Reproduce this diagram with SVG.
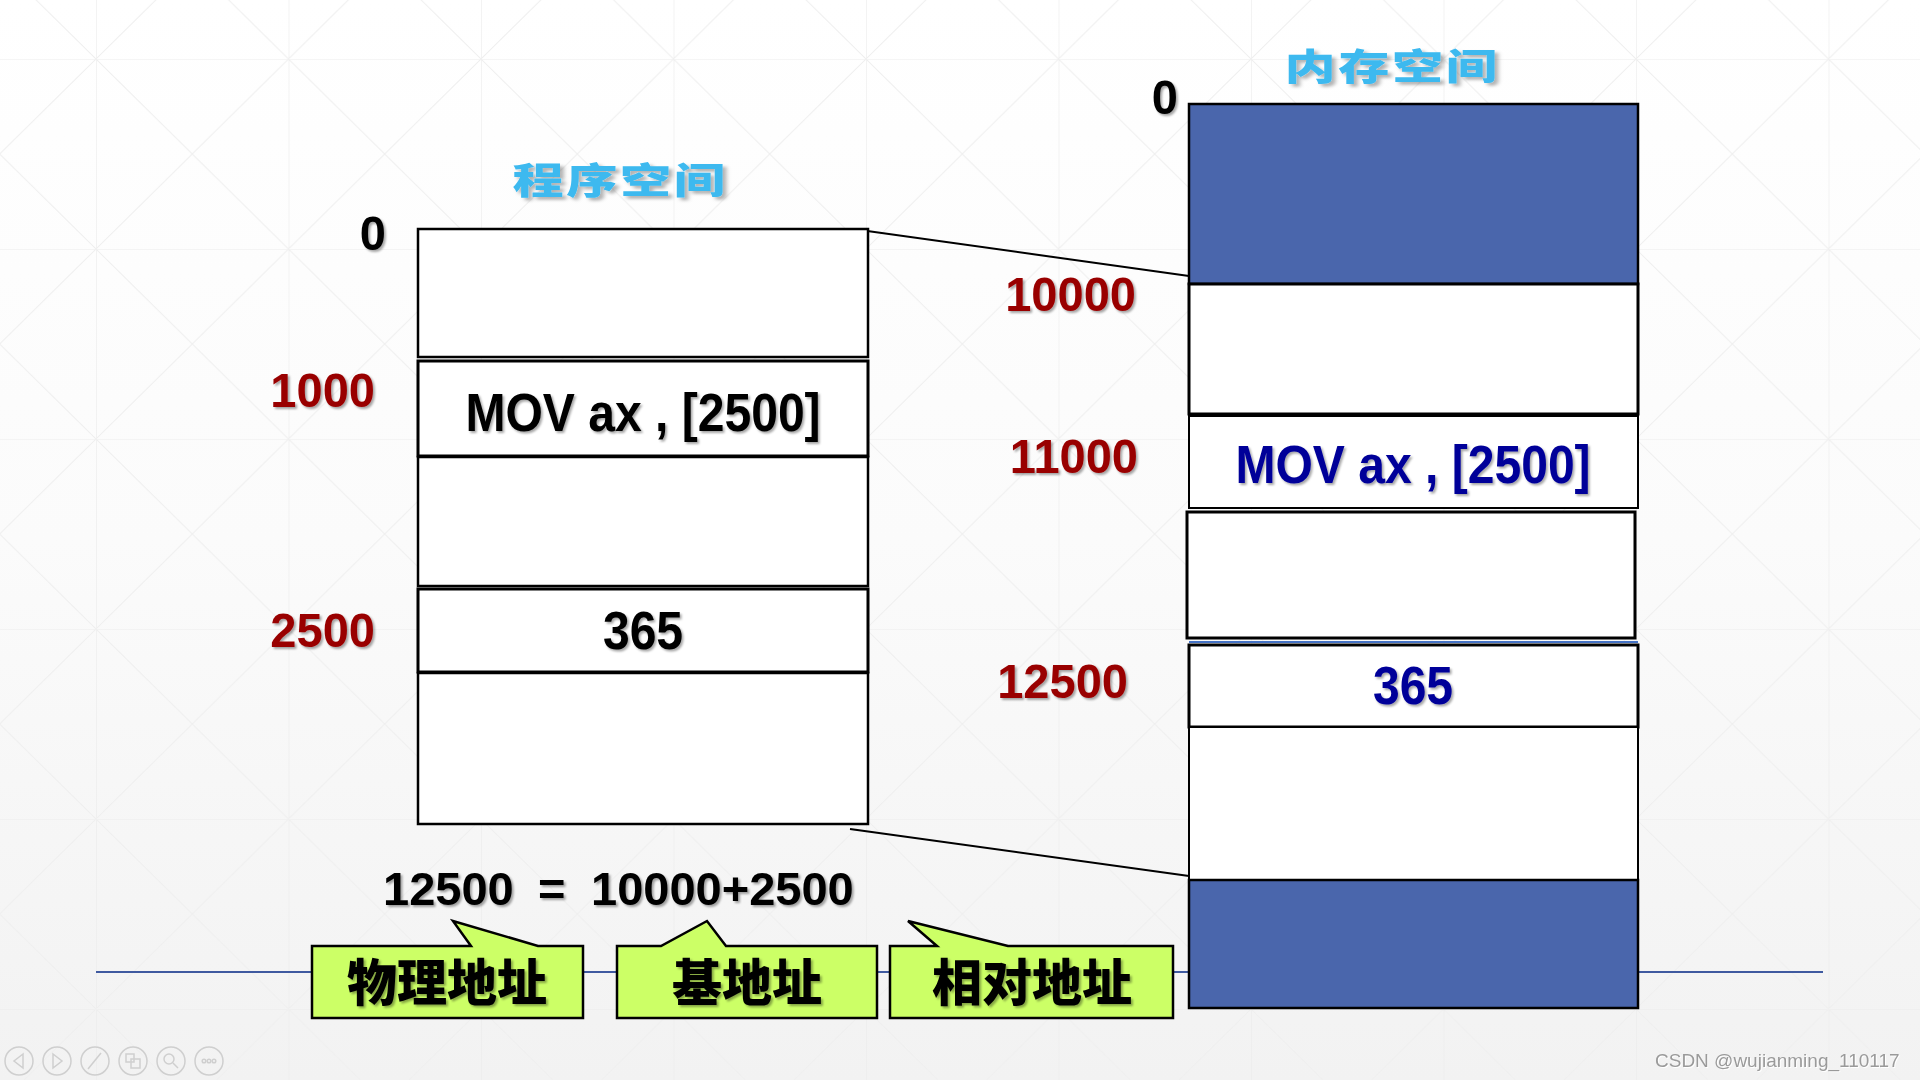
<svg xmlns="http://www.w3.org/2000/svg" width="1920" height="1080" viewBox="0 0 1920 1080">
<defs>
  <linearGradient id="bg" x1="0" y1="0" x2="0" y2="1">
    <stop offset="0" stop-color="#ffffff"/>
    <stop offset="0.5" stop-color="#fbfbfb"/>
    <stop offset="1" stop-color="#f2f2f2"/>
  </linearGradient>
  <pattern id="grid" patternUnits="userSpaceOnUse" x="96" y="59" width="192.5" height="190">
    <path d="M0 0H192.5M0 0V190" stroke="#ebebeb" stroke-width="1.2" fill="none"/>
    <path d="M0 0L192.5 190M192.5 0L0 190" stroke="#efefef" stroke-width="1" fill="none"/>
  </pattern>
  <filter id="sh" x="-10%" y="-20%" width="130%" height="150%">
    <feDropShadow dx="2" dy="2" stdDeviation="1.2" flood-color="#000" flood-opacity="0.35"/>
  </filter>
  <filter id="tsh" x="-10%" y="-20%" width="130%" height="160%">
    <feDropShadow dx="3" dy="3" stdDeviation="1.5" flood-color="#000" flood-opacity="0.3"/>
  </filter>
  <style>
    .cell{fill:#ffffff;stroke:#000;stroke-width:2.5}
    .blue{fill:#4A66AC;stroke:#000;stroke-width:2.5}
    .num{font-family:"Liberation Sans",Arial,sans-serif;font-weight:bold;font-size:49px;filter:url(#sh)}
    .eq{font-family:"Liberation Sans",Arial,sans-serif;font-weight:bold;font-size:47px;filter:url(#sh)}
    .red{fill:#990000}
    .blk{fill:#000}
    .code{font-family:"Liberation Sans",Arial,sans-serif;font-weight:bold;font-size:54px;text-anchor:middle;filter:url(#sh)}
    .title{font-family:"Noto Sans CJK SC",sans-serif;font-weight:900;font-size:40px;fill:#3DB9EF;text-anchor:middle;letter-spacing:2px;filter:url(#tsh)}
    .call{fill:#CCFF66;stroke:#000;stroke-width:2.5;stroke-linejoin:miter}
    .calltxt{font-family:"Noto Sans CJK SC",sans-serif;font-weight:900;font-size:50px;fill:#000;text-anchor:middle;filter:url(#sh)}
    .link{stroke:#000;stroke-width:2;fill:none}
    .nav{fill:none;stroke:#cfcfcf;stroke-width:1.5}
  </style>
</defs>

<rect x="0" y="0" width="1920" height="1080" fill="url(#bg)"/>
<rect x="0" y="0" width="1920" height="1080" fill="url(#grid)"/>

<!-- baseline rule -->
<line x1="96" y1="972" x2="1823" y2="972" stroke="#3F5AA0" stroke-width="2"/>

<!-- titles -->
<g id="title-program">
  <text class="title" transform="translate(620,194) scale(1.28,0.92)">程序空间</text>
</g>
<g id="title-memory">
  <text class="title" transform="translate(1392,80) scale(1.28,0.92)">内存空间</text>
</g>

<!-- connectors -->
<g id="connectors">
  <line class="link" x1="853" y1="229" x2="1189" y2="276"/>
  <line class="link" x1="850" y1="829" x2="1189" y2="876"/>
</g>

<!-- program space -->
<g id="program-space">
  <rect class="cell" x="418" y="229" width="450" height="128"/>
  <rect class="cell" x="418" y="361" width="450" height="95" style="stroke-width:3"/>
  <rect class="cell" x="418" y="457" width="450" height="129"/>
  <rect class="cell" x="418" y="589" width="450" height="83" style="stroke-width:3"/>
  <rect class="cell" x="418" y="673" width="450" height="151"/>
  <text class="code blk" transform="translate(643,431) scale(0.89,1)">MOV ax , [2500]</text>
  <text class="code blk" transform="translate(643,649) scale(0.89,1)">365</text>
</g>
<g id="program-labels">
  <text class="num blk" text-anchor="end" transform="translate(386,250) scale(0.96,1)">0</text>
  <text class="num red" text-anchor="end" transform="translate(375,407) scale(0.96,1)">1000</text>
  <text class="num red" text-anchor="end" transform="translate(375,647) scale(0.96,1)">2500</text>
</g>

<!-- memory space -->
<g id="memory-space">
  <rect class="blue" x="1189" y="104" width="449" height="180"/>
  <rect class="cell" x="1189" y="284" width="449" height="130" style="stroke-width:3"/>
  <rect class="cell" x="1189" y="416" width="449" height="92" style="stroke-width:2"/>
  <rect class="cell" x="1187" y="512" width="448" height="126" style="stroke-width:3"/>
  <line x1="1189" y1="642" x2="1638" y2="642" stroke="#4472C4" stroke-width="2"/>
  <rect class="cell" x="1189" y="645" width="449" height="82" style="stroke-width:3"/>
  <rect class="cell" x="1189" y="727" width="449" height="153" style="stroke-width:2"/>
  <rect class="blue" x="1189" y="880" width="449" height="128"/>
  <text class="code" fill="#000099" transform="translate(1413,483) scale(0.89,1)">MOV ax , [2500]</text>
  <text class="code" fill="#000099" transform="translate(1413,704) scale(0.89,1)">365</text>
</g>
<g id="memory-labels">
  <text class="num blk" text-anchor="end" transform="translate(1178,114) scale(0.96,1)">0</text>
  <text class="num red" text-anchor="end" transform="translate(1136,311) scale(0.96,1)">10000</text>
  <text class="num red" text-anchor="end" transform="translate(1138,473) scale(0.96,1)">11000</text>
  <text class="num red" text-anchor="end" transform="translate(1128,698) scale(0.96,1)">12500</text>
</g>

<!-- equation -->
<g id="equation">
  <text class="eq blk" y="905"><tspan x="383">12500</tspan><tspan x="538">=</tspan><tspan x="591">10000+2500</tspan></text>
</g>

<!-- callouts -->
<g id="callout-physical">
  <path class="call" d="M312 946H471L453 921L538 946H583V1018H312Z"/>
  <text class="calltxt" x="447" y="1001">物理地址</text>
</g>
<g id="callout-base">
  <path class="call" d="M617 946H661L707 921L726 946H877V1018H617Z"/>
  <text class="calltxt" x="747" y="1001">基地址</text>
</g>
<g id="callout-relative">
  <path class="call" d="M890 946H937L908 921L1008 946H1173V1018H890Z"/>
  <text class="calltxt" x="1032" y="1001">相对地址</text>
</g>

<!-- slide navigation icons -->
<g id="nav-icons">
  <circle class="nav" cx="19" cy="1061" r="14"/>
  <path class="nav" d="M23 1054L14 1061L23 1068Z"/>
  <circle class="nav" cx="57" cy="1061" r="14"/>
  <path class="nav" d="M53 1054L62 1061L53 1068Z"/>
  <circle class="nav" cx="95" cy="1061" r="14"/>
  <path class="nav" d="M88 1069L101 1053" stroke-width="3"/>
  <circle class="nav" cx="133" cy="1061" r="14"/>
  <rect class="nav" x="126" y="1054" width="8" height="8"/>
  <rect class="nav" x="131" y="1059" width="9" height="9"/>
  <circle class="nav" cx="171" cy="1061" r="14"/>
  <circle class="nav" cx="169" cy="1059" r="5"/>
  <path class="nav" d="M173 1063L178 1068" stroke-width="2.5"/>
  <circle class="nav" cx="209" cy="1061" r="14"/>
  <circle class="nav" cx="204" cy="1061" r="1.8"/>
  <circle class="nav" cx="209" cy="1061" r="1.8"/>
  <circle class="nav" cx="214" cy="1061" r="1.8"/>
</g>

<text x="1655" y="1067" font-family="Liberation Sans,Arial,sans-serif" font-size="19" fill="#9a9a9a" style="filter:drop-shadow(1px 1px 0 #ffffff)">CSDN @wujianming_110117</text>
</svg>
